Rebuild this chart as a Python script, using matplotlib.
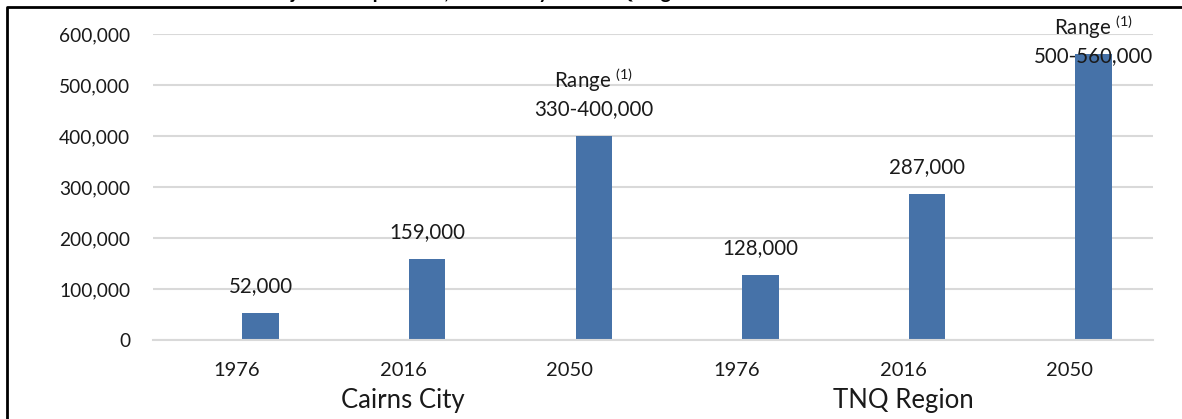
import matplotlib
matplotlib.use("Agg")
import matplotlib.pyplot as plt
from matplotlib.lines import Line2D

plt.rcParams['font.family'] = ['Lato', 'DejaVu Sans']
plt.rcParams['mathtext.fontset'] = 'custom'
plt.rcParams['mathtext.rm'] = 'Lato'
plt.rcParams['mathtext.it'] = 'Lato:italic'

years = ["1976", "2016", "2050", "1976", "2016", "2050"]
groups = ["Cairns City", "TNQ Region"]
group_centers = [1, 4]
base_values = [2500, 2500, 2500, 2500, 2500, 2500]
population = [52000, 159000, 400000, 128000, 287000, 560000]
labels = ["52,000", "159,000", "330-400,000", "128,000", "287,000", "500-560,000"]
range_flags = [False, False, True, False, False, True]
yticks = [0, 100000, 200000, 300000, 400000, 500000, 600000]

W, H = 1182, 419
fig = plt.figure(figsize=(W / 100, H / 100), dpi=100)
ax = fig.add_axes([153 / W, 1 - 340 / H, 1000 / W, 306 / H])

x = list(range(len(years)))
bw = 0.22
ax.bar([i - 0.14 for i in x], base_values, width=bw, color="#c3cde0", zorder=3)
ax.bar([i + 0.145 for i in x], population, width=bw, color="#4672a8", zorder=3)

ax.set_xlim(-0.5, 5.5)
ax.set_ylim(0, 600000)
ax.set_yticks(yticks)
ax.set_yticklabels([f"{v:,}" for v in yticks], fontsize=13.8, color="#1a1a1a")
ax.set_xticks(x)
ax.set_xticklabels(years, fontsize=14.5, color="#1a1a1a")
ax.tick_params(axis='both', length=0)
ax.tick_params(axis='x', pad=16)
ax.tick_params(axis='y', pad=16.5)
ax.yaxis.grid(True, color="#d9d9d9", linewidth=1.5, zorder=0)
for s in ["top", "right", "left"]:
    ax.spines[s].set_visible(False)
ax.spines["bottom"].set_color("#d9d9d9")
ax.spines["bottom"].set_linewidth(1.5)
ax.spines["bottom"].set_zorder(4)

px = 600000 / 306.0
for i, (v, lab, rf) in enumerate(zip(population, labels, range_flags)):
    xc = i + 0.145
    if i == 5:
        ycen = 600000 - (56 - 34) * px
    else:
        ycen = v + 27 * px
    ax.text(xc, ycen, lab, ha="center", va="center", fontsize=14.8, color="#1a1a1a", zorder=5)
    if rf:
        ax.text(xc, ycen + 29 * px, r"Range $^{\mathit{(1)}}$", ha="center", va="center",
                fontsize=14.8, color="#1a1a1a", zorder=5, clip_on=False)

for g, gc in zip(groups, group_centers):
    ax.text(gc, -60 * px, g, ha="center", va="center", fontsize=18.5,
            color="#1a1a1a", clip_on=False)

fig.text(150 / W, 1 + 1.5 / H, "Historic and Projected Population, Cairns City and TNQ Region",
         ha="left", va="baseline", fontsize=14, fontweight="bold", color="black")

fig.add_artist(Line2D([7 / W, 7 / W, 1.0], [0.0, 1 - 7 / H, 1 - 7 / H],
                      transform=fig.transFigure, color="black", linewidth=2))

fig.savefig("out.png", dpi=100)
